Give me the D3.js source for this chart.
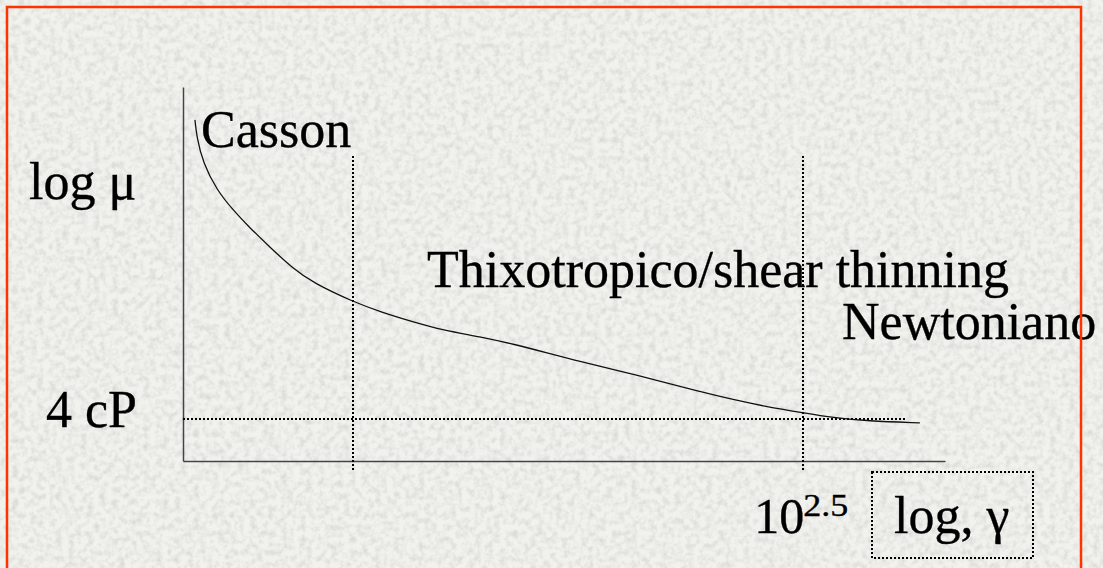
<!DOCTYPE html>
<html>
<head>
<meta charset="utf-8">
<script src="https://cdn.jsdelivr.net/npm/d3@7"></script>
<style>
  html, body { margin: 0; padding: 0; background: #efefec; overflow: hidden; }
  svg { display: block; }
  text { font-family: "Liberation Serif", "Times New Roman", serif; fill: #000; stroke: #000; stroke-width: 0.35px; }
</style>
</head>
<body>
<svg id="chart"></svg>
<script>
// viscosity curve (axis units 0..10)
const logGamma = [0.157, 0.18, 0.262, 0.442, 0.656, 0.879, 1.14, 1.44, 1.71, 2.23, 2.59, 3.02,
  3.41, 3.90, 4.33, 4.78, 5.21, 5.73, 6.35, 6.78, 7.22, 7.66, 8.14, 8.53, 8.98, 9.67];
const logMu = [9.12, 8.67, 7.97, 7.25, 6.71, 6.23, 5.72, 5.15, 4.76, 4.26, 3.99, 3.72,
  3.50, 3.32, 3.13, 2.89, 2.66, 2.41, 2.09, 1.86, 1.64, 1.45, 1.29, 1.16, 1.07, 1.02];

// dotted guides
const regionBounds = [2.23, 8.14];   // Casson | thixotropic | newtonian
const guideSpan = [-0.24, 8.16];     // vertical extent of the region lines
const cpLevel = 1.115;               // 4 cP
const cpSpan = [0, 9.5];

const yLabels = ['log \u03bc', '4 cP'];
const regionLabels = ['Casson', 'Thixotropico/shear thinning', 'Newtoniano'];
const tickBase = '10', tickExp = '2.5';
const xLabel = 'log, \u03b3';

const width = 1103, height = 568;
const svg = d3.select('#chart').attr('width', width).attr('height', height);

// granite-ish slide background
const defs = svg.append('defs');
const f = defs.append('filter').attr('id', 'grain')
  .attr('x', 0).attr('y', 0).attr('width', '100%').attr('height', '100%');
f.append('feTurbulence').attr('type', 'fractalNoise')
  .attr('baseFrequency', 0.16).attr('numOctaves', 3).attr('seed', 4);
f.append('feColorMatrix').attr('type', 'matrix')
  .attr('values', '0 0 0 0 0.62  0 0 0 0 0.62  0 0 0 0 0.6  1.4 0 0 0 -0.55');
svg.append('rect').attr('width', width).attr('height', height).attr('fill', '#f1f1ee');
svg.append('rect').attr('width', width).attr('height', height).attr('filter', 'url(#grain)');

const x = d3.scaleLinear().domain([0, 10]).range([183, 945]);
const y = d3.scaleLinear().domain([0, 10]).range([461, 87]);

const g = svg.append('g');

// axes without ticks
g.append('g').attr('transform', `translate(0,${y(0)})`)
  .call(d3.axisBottom(x).tickValues([]).tickSizeOuter(0))
  .select('.domain').attr('stroke', '#444').attr('stroke-width', 1.5);
g.append('g').attr('transform', `translate(${x(0)},0)`)
  .call(d3.axisLeft(y).tickValues([]).tickSizeOuter(0))
  .select('.domain').attr('stroke', '#444').attr('stroke-width', 1.5);

// dotted guides
g.selectAll('line.region')
  .data(regionBounds)
  .join('line')
    .attr('class', 'region')
    .attr('x1', d => Math.round(x(d))).attr('x2', d => Math.round(x(d)))
    .attr('y1', y(guideSpan[1])).attr('y2', y(guideSpan[0]))
    .attr('stroke', '#000').attr('stroke-width', 2).attr('stroke-dasharray', '2,2')
    .attr('shape-rendering', 'crispEdges');
g.append('line')
  .attr('x1', x(cpSpan[0])).attr('x2', x(cpSpan[1]))
  .attr('y1', Math.round(y(cpLevel))).attr('y2', Math.round(y(cpLevel)))
  .attr('stroke', '#000').attr('stroke-width', 2).attr('stroke-dasharray', '2,2')
  .attr('shape-rendering', 'crispEdges');

// the curve
const pts = logGamma.map((v, i) => [v, logMu[i]]);
g.append('path')
  .datum(pts)
  .attr('fill', 'none')
  .attr('stroke', '#111')
  .attr('stroke-width', 1.3)
  .attr('d', d3.line()
    .x(d => x(d[0]))
    .y(d => y(d[1]))
    .curve(d3.curveBasis));

const fs = 52;
const label = (t, px, py, size) => g.append('text')
  .attr('x', px).attr('y', py).style('font-size', (size || fs) + 'px').text(t);

// y labels
label(yLabels[0], 29, 199);
label(yLabels[1], 46, y(cpLevel) + 8);

// region labels
label(regionLabels[0], x(0) + 18, 147);
label(regionLabels[1], 427, 287);
label(regionLabels[2], 842, 339);

// tick at the newtonian boundary
const tx = x(regionBounds[1]);
label(tickBase, tx - 49, 533, 50);
g.append('text')
  .attr('x', tx).attr('y', 516)
  .attr('textLength', 45).attr('lengthAdjust', 'spacingAndGlyphs')
  .style('font-size', '31px').text(tickExp);

// x axis label in dotted box
g.append('rect')
  .attr('x', 872).attr('y', 472).attr('width', 161).attr('height', 86)
  .attr('fill', 'none').attr('stroke', '#000').attr('stroke-width', 2)
  .attr('stroke-dasharray', '2,2').attr('shape-rendering', 'crispEdges');
label(xLabel, 894, 533);

// slide frame
svg.append('rect')
  .attr('x', 7).attr('y', 7).attr('width', 1074).attr('height', 600)
  .attr('fill', 'none').attr('stroke', '#ff3300').attr('stroke-width', 2.5);
</script>
</body>
</html>
